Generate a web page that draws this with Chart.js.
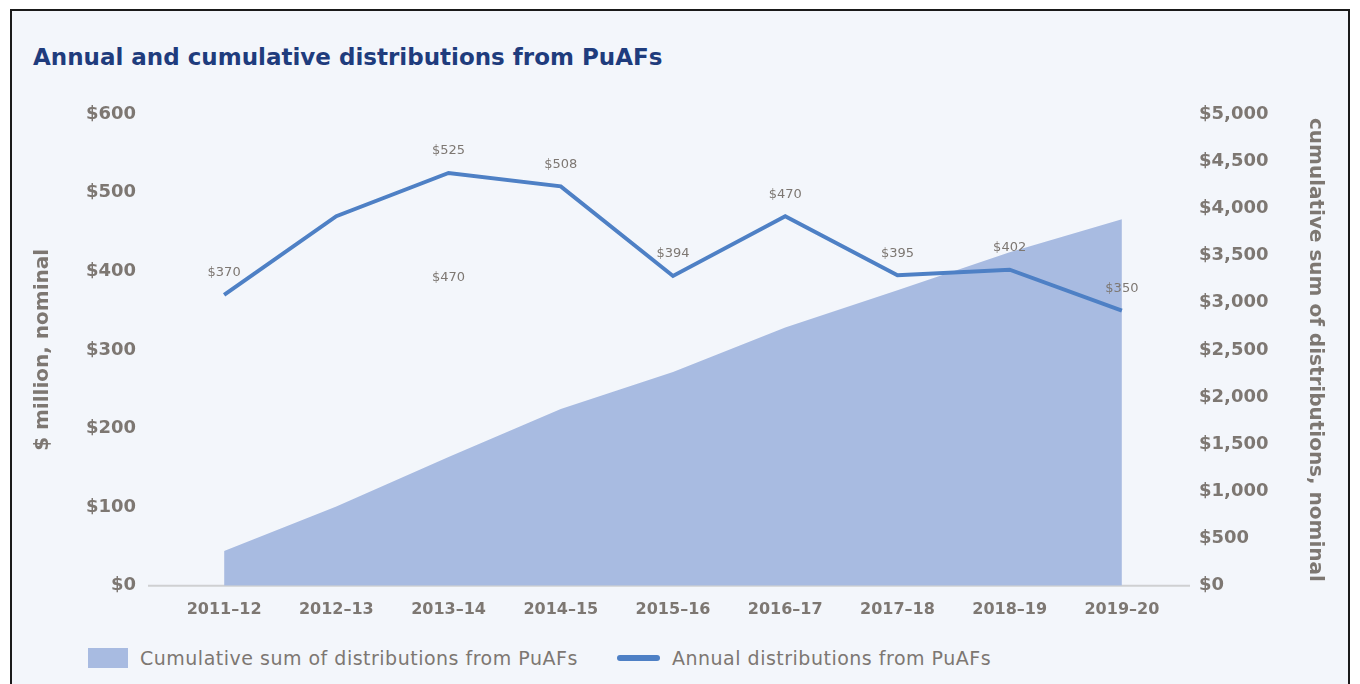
<!DOCTYPE html>
<html>
<head>
<meta charset="utf-8">
<script src="https://cdn.jsdelivr.net/npm/chart.js@4"></script>
<style>
  html, body { margin: 0; background: #fff; }
  #box { position: absolute; left: 10px; top: 9px; width: 1336px; height: 690px;
         border: 2px solid #1a1a1a; background: #f3f6fb; font-family: 'DejaVu Sans', sans-serif; }
  #title { position: absolute; left: 21px; top: 33px; font-size: 23px; line-height: 26px;
           font-weight: bold; color: #1f3c7d; white-space: nowrap; }
  #wrap { position: absolute; left: 0; top: 0; width: 1336px; height: 624px; }
  .leg { position: absolute; top: 637px; height: 20px; display: flex; align-items: center;
         font-size: 19px; letter-spacing: 0.5px; color: #7d7772; white-space: nowrap; }
  .sw-area { width: 40px; height: 20px; background: #a8bbe1; margin-right: 12px; }
  .sw-line { width: 43px; height: 6px; border-radius: 3px; background: #4e80c5; margin-right: 12px; }
</style>
</head>
<body>
<div id="box">
  <div id="title">Annual and cumulative distributions from PuAFs</div>
  <div id="wrap"><canvas id="chart"></canvas></div>
  <div class="leg" style="left:76px"><span class="sw-area"></span>Cumulative sum of distributions from PuAFs</div>
  <div class="leg" style="left:605px"><span class="sw-line"></span>Annual distributions from PuAFs</div>
</div>
<script>
// values
const years = ['2011–12', '2012–13', '2013–14', '2014–15', '2015–16', '2016–17', '2017–18', '2018–19', '2019–20'];
const annual = [370, 470, 525, 508, 394, 470, 395, 402, 350];
const cumulative = [370, 840, 1365, 1873, 2267, 2737, 3132, 3534, 3884];

const GREY = '#7d7772';
const LINE = '#4e80c5';
const AREA = '#a8bbe1';

// thin grey baseline under the plot, a bit wider than the plot area
const baseline = {
  id: 'baseline',
  beforeDatasetsDraw(chart) {
    const { ctx, chartArea } = chart;
    ctx.save();
    ctx.strokeStyle = '#cfd0d2';
    ctx.lineWidth = 2;
    ctx.beginPath();
    ctx.moveTo(chartArea.left - 20, chartArea.bottom);
    ctx.lineTo(chartArea.right + 12, chartArea.bottom);
    ctx.stroke();
    ctx.restore();
  }
};

// "$xxx" labels over the annual line
const valueLabels = {
  id: 'valueLabels',
  afterDatasetsDraw(chart) {
    const { ctx, scales } = chart;
    const meta = chart.getDatasetMeta(0);
    ctx.save();
    ctx.font = '13px "DejaVu Sans"';
    ctx.fillStyle = GREY;
    ctx.textAlign = 'center';
    ctx.textBaseline = 'middle';
    meta.data.forEach((pt, i) => {
      let x = pt.x, y = pt.y - 22;
      // the reference prints the 2012–13 label below the line, under 2013–14
      if (i === 1) { x = scales.x.getPixelForValue(2); y = scales.y.getPixelForValue(392); }
      ctx.fillText('$' + annual[i], x, y);
    });
    ctx.restore();
  }
};

new Chart(document.getElementById('chart'), {
  data: {
    labels: years,
    datasets: [
      {
        type: 'line',
        label: 'Annual distributions from PuAFs',
        data: annual,
        yAxisID: 'y',
        borderColor: LINE,
        borderWidth: 4,
        pointRadius: 0,
        tension: 0,
        fill: false
      },
      {
        type: 'line',
        label: 'Cumulative sum of distributions from PuAFs',
        data: cumulative,
        yAxisID: 'y1',
        borderWidth: 0,
        backgroundColor: AREA,
        pointRadius: 0,
        tension: 0,
        fill: 'origin'
      }
    ]
  },
  options: {
    responsive: true,
    maintainAspectRatio: false,
    animation: false,
    layout: { padding: { left: 14, right: 10, top: 103, bottom: 10 } },
    plugins: { legend: { display: false }, tooltip: { enabled: false } },
    scales: {
      x: {
        type: 'category',
        offset: true,
        grid: { display: false },
        border: { display: false },
        ticks: { color: GREY, padding: 6, font: { family: 'DejaVu Sans', size: 16, weight: 'bold' } }
      },
      y: {
        position: 'left',
        min: 0, max: 600,
        grid: { display: false },
        border: { display: false },
        afterFit(s) { s.width = 142; },
        ticks: {
          stepSize: 100, padding: 24, color: GREY,
          font: { family: 'DejaVu Sans', size: 18, weight: 'bold' },
          callback: v => '$' + v
        },
        title: {
          display: true, text: '$ million, nominal', color: GREY, padding: { top: 5, bottom: 0 },
          font: { family: 'DejaVu Sans', size: 20, weight: 'bold' }
        }
      },
      y1: {
        position: 'right',
        min: 0, max: 5000,
        grid: { display: false },
        border: { display: false },
        afterFit(s) { s.width = 160; },
        ticks: {
          stepSize: 500, padding: 13, color: GREY,
          font: { family: 'DejaVu Sans', size: 18, weight: 'bold' },
          callback: v => '$' + v.toLocaleString('en-US')
        },
        title: {
          display: true, text: 'cumulative sum of distributions, nominal', color: GREY,
          padding: { top: 11, bottom: 0 },
          font: { family: 'DejaVu Sans', size: 20, weight: 'bold' }
        }
      }
    }
  },
  plugins: [baseline, valueLabels]
});
</script>
</body>
</html>
